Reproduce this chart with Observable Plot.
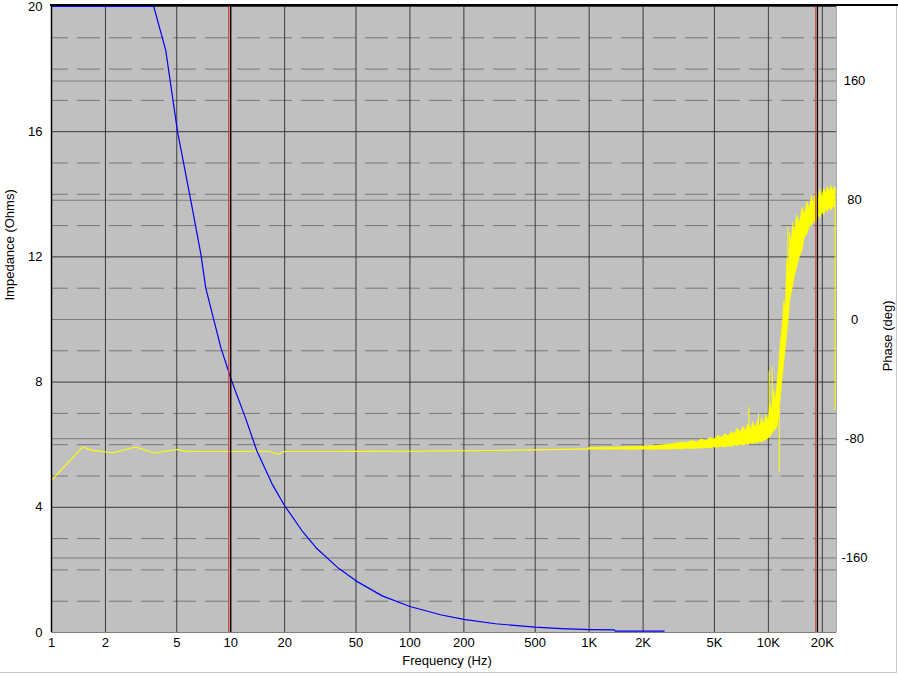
<!DOCTYPE html>
<html><head><meta charset="utf-8">
<script src="https://cdn.jsdelivr.net/npm/d3@7"></script>
<script src="https://cdn.jsdelivr.net/npm/@observablehq/plot@0.6"></script>
<style>
body{margin:0;background:#fff;}
#wrap{position:relative;width:898px;height:674px;overflow:hidden;background:#fff;}
#wrap svg{position:absolute;left:0;top:0;}
.deco{position:absolute;}
</style></head><body><div id="wrap"></div>
<script>
// ---- axes / ticks ----
const freqTicks = [1,2,5,10,20,50,100,200,500,1000,2000,5000,10000,20000];
const freqTickLabels = ["1","2","5","10","20","50","100","200","500","1K","2K","5K","10K","20K"];
const impedanceTicks = [0,4,8,12,16,20];
const impedanceMinor = [1,2,3,5,6,7,9,10,11,13,14,15,17,18,19];
const phaseTicks = [-160,-80,0,80,160];
const phaseDomain = [-210,210];
const freqDomain = [1,24000];

// ---- impedance (Ohms) ----
const impFreq = [1,3.72,4.34,5.05,5.99,6.81,7.26,8.81,10.1,12.1,14,17,20,25,30,40,50,70,100,150,200,300,500,700,1000,1380,1400,2620];
const impOhms = [20,20,18.6,16.0,13.8,12.1,11.0,9.1,8.05,6.85,5.8,4.75,4.05,3.25,2.7,2.05,1.65,1.17,0.83,0.56,0.42,0.28,0.17,0.125,0.095,0.085,0.045,0.045];

// ---- phase (deg), smooth low-frequency part ----
const phaseFreq = [1,1.49,1.69,2.19,2.95,3.74,5.05,5.5,7,10,14,16.5,18.3,20,30,50,100,200,500,1000];
const phaseDeg = [-108,-85.6,-87.8,-89.4,-85.6,-89.6,-87.2,-88.3,-88.6,-88.6,-88.4,-88.6,-90.4,-88.6,-88.6,-88.5,-88.4,-88.1,-87.5,-86.8];

// ---- phase (deg), noisy high-frequency part: envelope ----
const noiseFreq = [1000,1250,1500,1750,2000,2250,2500,2750,3000,3250,3500,3750,4000,4250,4500,4750,5000,5250,5500,5750,6000,6250,6500,6750,7000,7250,7500,7750,8000,8250,8500,8750,9000,9250,9500,9750,10000,10250,10500,10750,11000,11250,11500,11750,12000,12250,12500,12750,13000,13250,13500,13750,14000,14500,15000,15500,16000,16500,17000,17500,18000,18500,19000,19500,20000,20500,21000,21500,22000,22500,23000,23500];
const noiseLo = [-87.2,-87.4,-87.3,-87.5,-87.3,-87.5,-87.2,-87.4,-87,-87.3,-86.8,-87,-86.5,-86.8,-86.2,-86.5,-85.8,-86,-85.5,-85.8,-85,-85.5,-84.5,-85,-84,-84.5,-83.5,-84,-83,-83.5,-82.5,-83,-82,-82.5,-81.5,-81,-80,-79,-77,-75,-74,-72,-64,-52,-40,-30,-20,-10,0,12,18,22,28,35,42,46,55,57,62,63,66,65,70,68,72,70,74,72,75,73,76,75];
const noiseHi = [-86.2,-86,-85.8,-85.6,-85.4,-85,-84.6,-84,-83.5,-82.5,-83,-81.5,-82.5,-80.5,-81.5,-79.5,-80.5,-78,-79.5,-77,-78.5,-75.5,-77,-73,-76,-72,-75,-70,-74,-69,-73,-68,-72,-66,-71,-64,-68,-56,-62,-47,-55,-42,-30,-15,-5,12,8,40,30,58,50,65,58,70,64,75,70,79,74,83,78,85,80,87,82,88,84,89,85,89.5,86,89];

// ---- phase spikes ----
const spikeFreq = [7800,8800,10100,10500,11500,12850,23580];
const spikeLow = [-76,-72,-62,-58,-102.6,20,-61];
const spikeHigh = [-59,-63,-35,-32,-60,62,88];

// ---- cursor markers ----
const markerRed = [9.75,18400];
const markerBlack = [10,18800];

// ---- build tables ----
const toY = p => (p - phaseDomain[0]) / (phaseDomain[1] - phaseDomain[0]) * 20;
const fromY = y => Math.round(phaseDomain[0] + y / 20 * (phaseDomain[1] - phaseDomain[0]));
const imp = impFreq.map((f,i)=>({f, z: impOhms[i]}));
const phase = phaseFreq.map((f,i)=>({f, y: toY(phaseDeg[i])}));
const noise = noiseFreq.map((f,i)=>({f, lo: toY(noiseLo[i]), hi: toY(noiseHi[i])}));
const spikes = spikeFreq.map((f,i)=>({f, a: toY(spikeLow[i]), b: toY(spikeHigh[i])}));
const xLabels = freqTicks.map((f,i)=>({f, label: freqTickLabels[i]}));

const font = "'Liberation Sans', Arial, sans-serif";
const chart = Plot.plot({
  width: 898, height: 674,
  marginLeft: 51, marginRight: 62, marginTop: 6, marginBottom: 42,
  x: {type: "log", domain: freqDomain, label: null, axis: null},
  y: {domain: [0,20], label: null},
  style: {fontFamily: font, fontSize: "13px", background: "transparent", color: "#000"},
  marks: [
    Plot.frame({fill: "#c0c0c0", stroke: null}),
    Plot.ruleY(impedanceMinor, {stroke: "#777", strokeDasharray: "23,9", strokeDashoffset: 6}),
    Plot.ruleY(phaseTicks.map(toY), {stroke: "#7c7c7c"}),
    Plot.ruleY(impedanceTicks, {stroke: "#3a3a3a"}),
    Plot.ruleX(freqTicks, {stroke: "#3a3a3a"}),
    Plot.areaY(noise, {x: "f", y1: "lo", y2: "hi", fill: "#ffff00", stroke: "#ffff00", strokeWidth: 0.6}),
    Plot.line(phase, {x: "f", y: "y", stroke: "#ffff00", strokeWidth: 1.1}),
    Plot.ruleX(spikes, {x: "f", y1: "a", y2: "b", stroke: "#ffff00", strokeWidth: 1}),
    Plot.line(imp, {x: "f", y: "z", stroke: "#0000f0", strokeWidth: 1.2}),
    Plot.ruleX(markerRed, {stroke: "#d03c3c", strokeWidth: 1.2}),
    Plot.ruleX(markerBlack, {stroke: "#000", strokeWidth: 1.2}),
    Plot.ruleX([freqDomain[0]], {stroke: "#000", strokeWidth: 1.5}),
    Plot.ruleY([0], {stroke: "#808080"}),
    Plot.ruleX([freqDomain[1]], {stroke: "#a8a8a8"}),
    Plot.text(xLabels, {x: "f", text: "label", frameAnchor: "bottom", dy: 14, fontSize: 13}),
    Plot.axisY(impedanceTicks, {anchor: "left", tickSize: 0, tickPadding: 9, label: null}),
    Plot.axisY(phaseTicks.map(toY), {anchor: "right", tickSize: 0, tickPadding: 18, textAnchor: "middle", label: null, tickFormat: fromY}),
    Plot.text(["Frequency (Hz)"], {frameAnchor: "bottom", dx: 3, dy: 32, fontSize: 13}),
    Plot.text(["Impedance (Ohms)"], {frameAnchor: "left", dx: -42, dy: -19, rotate: -90, fontSize: 13}),
    Plot.text(["Phase (deg)"], {frameAnchor: "right", dx: 51, dy: -19, rotate: -90, fontSize: 13})
  ]
});
const wrap = document.getElementById("wrap");
wrap.appendChild(chart);
// panel decoration: top dark edge, outer light edges
const deco = (css) => { const d = document.createElement("div"); d.className = "deco"; d.style.cssText = css; wrap.appendChild(d); };
deco("left:50px;top:4px;width:848px;height:2px;background:#000;");
deco("left:896px;top:6px;width:1px;height:667px;background:#c8c8c8;");
deco("left:0px;top:672px;width:897px;height:1px;background:#c8c8c8;");
</script>
</body></html>
